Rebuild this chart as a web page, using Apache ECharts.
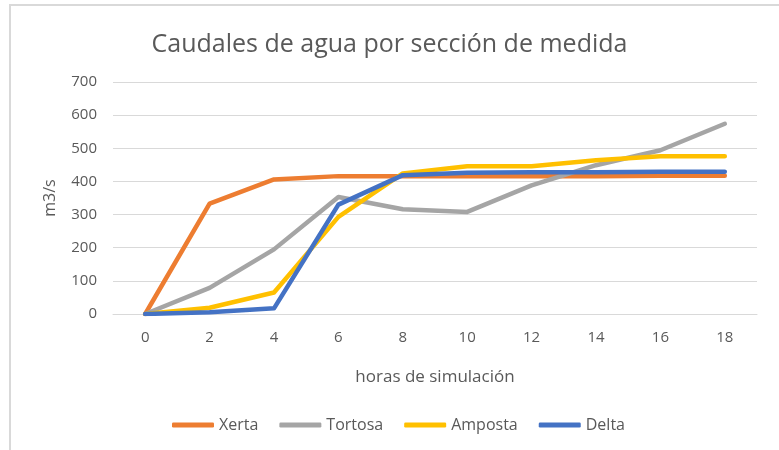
<!DOCTYPE html>
<html>
<head>
<meta charset="utf-8">
<script src="https://cdn.jsdelivr.net/npm/echarts@6/dist/echarts.min.js"></script>
<style>
  html, body { margin: 0; padding: 0; background: #fff; }
  #chart { width: 779px; height: 450px; }
</style>
</head>
<body>
<div id="chart"></div>
<script>
// Simulated hours (x axis categories)
const hours = ['0', '2', '4', '6', '8', '10', '12', '14', '16', '18'];

// Flow (m3/s) at each measuring section
const xerta   = [0, 333, 406, 416, 416, 416, 416, 416, 417, 417];
const tortosa = [0, 79, 195, 353, 316, 308, 388, 449, 494, 574];
const amposta = [0, 19, 65, 293, 424, 446, 446, 464, 476, 476];
const delta   = [0, 5, 17, 330, 419, 426, 428, 428, 429, 429];

const seriesNames = ['Xerta', 'Tortosa', 'Amposta', 'Delta'];
const seriesColors = ['#ED7D31', '#A5A5A5', '#FFC000', '#4472C4'];
const seriesData = [xerta, tortosa, amposta, delta];

const FONT = '"Open Sans", "Noto Sans", sans-serif';
const TEXT = '#595959';

const chart = echarts.init(document.getElementById('chart'), null, { renderer: 'canvas' });

chart.setOption({
  animation: false,
  backgroundColor: '#fff',
  textStyle: { fontFamily: FONT },
  graphic: [{
    type: 'rect',
    shape: { x: 10, y: 5, width: 820, height: 500 },
    style: { fill: 'none', stroke: '#D9D9D9', lineWidth: 2 },
    silent: true
  }],
  title: {
    text: 'Caudales de agua por sección de medida',
    left: 'center',
    top: 27,
    textStyle: { fontFamily: FONT, fontSize: 25, fontWeight: 'normal', color: TEXT }
  },
  legend: {
    top: 412,
    left: 167,
    itemWidth: 42,
    itemHeight: 5,
    itemGap: 21,
    icon: 'roundRect',
    data: seriesNames,
    textStyle: { fontFamily: FONT, fontSize: 16, color: TEXT }
  },
  grid: { left: 113, right: 22, top: 82, bottom: 136 },
  xAxis: {
    type: 'category',
    data: hours,
    boundaryGap: true,
    name: 'horas de simulación',
    nameLocation: 'middle',
    nameGap: 55,
    nameTextStyle: { fontFamily: FONT, fontSize: 17, color: TEXT },
    axisLine: { show: true, lineStyle: { color: '#D9D9D9', width: 1 } },
    axisTick: { show: false },
    axisLabel: { color: TEXT, fontSize: 15, margin: 16, fontFamily: FONT }
  },
  yAxis: {
    type: 'value',
    min: 0,
    max: 700,
    interval: 100,
    name: 'm3/s',
    nameLocation: 'middle',
    nameGap: 55,
    nameRotate: 90,
    nameTextStyle: { fontFamily: FONT, fontSize: 16, color: TEXT },
    axisLine: { show: false },
    axisTick: { show: false },
    axisLabel: { color: TEXT, fontSize: 15, margin: 16, fontFamily: FONT },
    splitLine: { lineStyle: { color: '#D9D9D9', width: 1 } }
  },
  series: seriesNames.map((name, i) => ({
    name: name,
    type: 'line',
    data: seriesData[i],
    symbol: 'none',
    lineStyle: { color: seriesColors[i], width: 4.5, cap: 'round', join: 'round' },
    itemStyle: { color: seriesColors[i] }
  }))
});
</script>
</body>
</html>
